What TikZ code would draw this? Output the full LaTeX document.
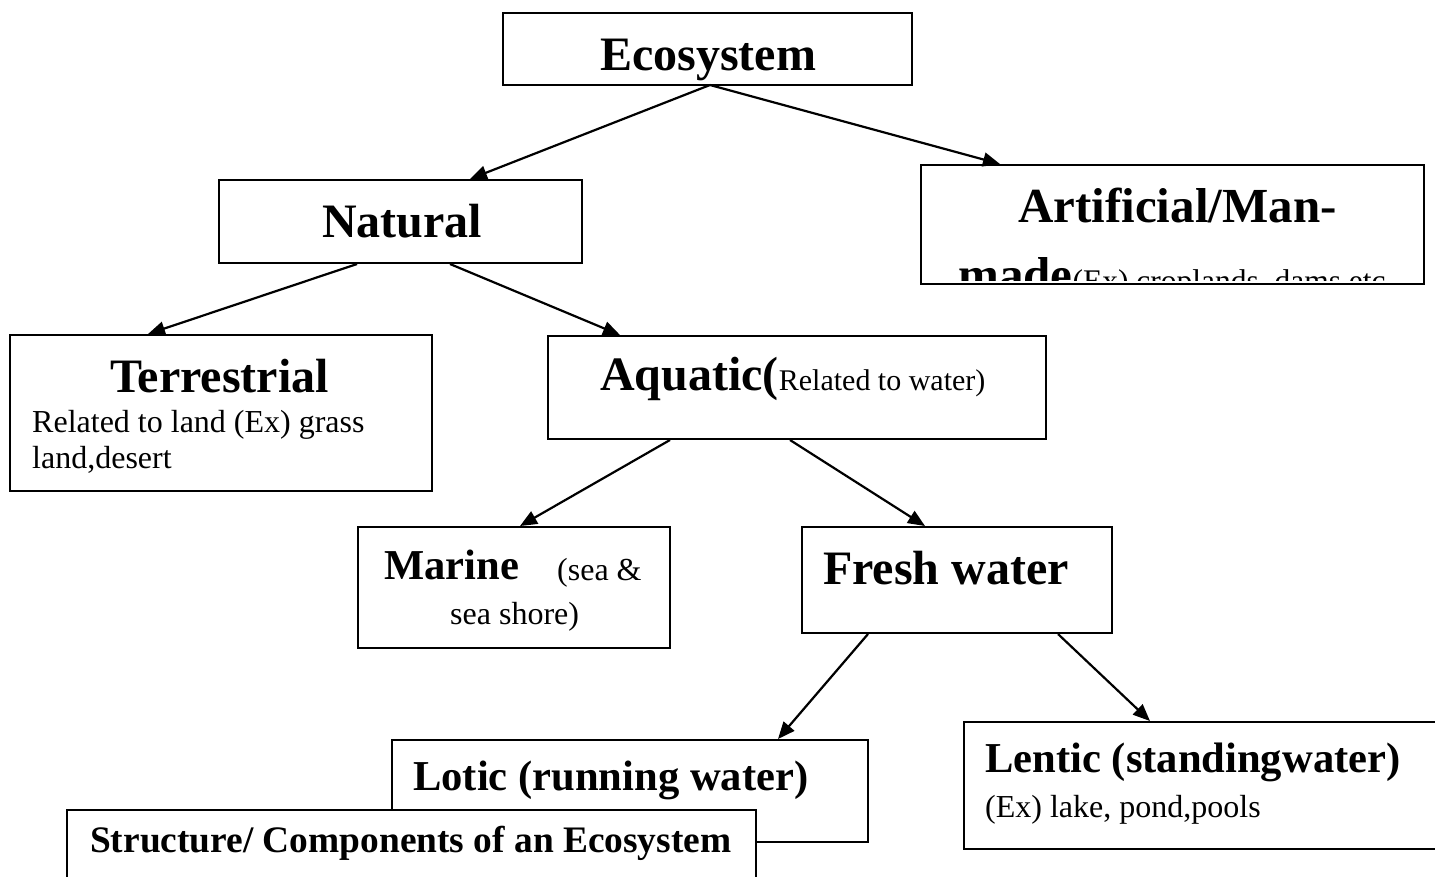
\documentclass[tikz,border=0pt]{standalone}
\usepackage{fontspec}
\setmainfont{Liberation Serif}
\usetikzlibrary{arrows.meta}
\begin{document}
\begin{tikzpicture}[x=1pt,y=-1pt,
 box/.style={draw,line width=2.2pt,fill=white,inner sep=0pt},
 arr/.style={line width=2.2pt,-{Triangle[length=17pt,width=14pt]}},
 big/.style={anchor=base west,inner sep=0pt,font=\fontsize{48}{50}\selectfont\bfseries},
 mid/.style={anchor=base west,inner sep=0pt,font=\fontsize{42.6}{44}\selectfont\bfseries},
 small/.style={anchor=base west,inner sep=0pt,font=\fontsize{32}{34}\selectfont},
]
\clip (0,0) rectangle (1435,876);
\fill[white] (0,0) rectangle (1435,876);

% boxes
\node[box,minimum width=409pt,minimum height=72pt] (eco) at (707.5,49) {};
\node[box,minimum width=363pt,minimum height=83pt] (nat) at (400.5,221.5) {};
\node[box,minimum width=503pt,minimum height=119pt] (art) at (1172.5,224.5) {};
\node[box,minimum width=422pt,minimum height=156pt] (ter) at (221,413) {};
\node[box,minimum width=498pt,minimum height=103pt] (aqu) at (797,387.5) {};
\node[box,minimum width=312pt,minimum height=121pt] (mar) at (514,587.5) {};
\node[box,minimum width=310pt,minimum height=106pt] (fre) at (957,580) {};
\node[box,minimum width=476pt,minimum height=102pt] (lot) at (630,791) {};
\node[box,minimum width=516pt,minimum height=127pt] (len) at (1222,785.5) {};

% arrow end points
\coordinate (e1) at (710,85);
\coordinate (n1) at (470,179);
\coordinate (a1) at (1000,164);
\coordinate (n2) at (357,264);
\coordinate (n3) at (450,264);
\coordinate (t1) at (148,334);
\coordinate (q1) at (620,335);
\coordinate (q2) at (670,440);
\coordinate (q3) at (790,440);
\coordinate (m1) at (520,526);
\coordinate (f1) at (925,526);
\coordinate (f2) at (868,634);
\coordinate (f3) at (1058,634);
\coordinate (l1) at (778,739);
\coordinate (l2) at (1150,721);

\draw[arr] (e1) -- (n1);
\draw[arr] (e1) -- (a1);
\draw[arr] (n2) -- (t1);
\draw[arr] (n3) -- (q1);
\draw[arr] (q2) -- (m1);
\draw[arr] (q3) -- (f1);
\draw[arr] (f2) -- (l1);
\draw[arr] (f3) -- (l2);

% texts
\node[big] (tEco) at (600,70) {Ecosystem};
\node[big] (tNat) at (322,237) {Natural};
\begin{scope}
\clip (922,166) rectangle (1423,280);
\node[big,font=\fontsize{49}{51}\selectfont\bfseries] (tArt) at (1018,222) {Artificial/Man-};
\node[big,font=\fontsize{49}{51}\selectfont\bfseries] (tMade) at (958,291) {made\fontsize{31.5}{33}\selectfont\mdseries(Ex) croplands, dams etc.};
\end{scope}
\node[big] (tTer) at (110,392) {Terrestrial};
\node[small] (tTer2) at (32,432) {Related to land (Ex) grass};
\node[small] (tTer3) at (32,468) {land,desert};
\node[big] (tAqu) at (600,390) {Aquatic(\fontsize{30}{32}\selectfont\mdseries Related to water)};
\node[mid] (tMar) at (384,579) {Marine};
\node[small] (tMar2) at (557,580) {(sea \&};
\node[small] (tMar3) at (450,624) {sea shore)};
\node[big] (tFre) at (823,584) {Fresh water};
\node[mid] (tLot) at (413,790) {Lotic (running water)};
\node[mid] (tLen) at (985,772) {Lentic (standingwater)};
\node[small] (tLen2) at (985,817) {(Ex) lake, pond,pools};

\node[box,minimum width=689pt,minimum height=110pt] (str) at (411.5,865) {};
\node[anchor=base west,inner sep=0pt,font=\fontsize{37.4}{39}\selectfont\bfseries] (tStr) at (90,852) {Structure/ Components of an Ecosystem};
\end{tikzpicture}
\end{document}
